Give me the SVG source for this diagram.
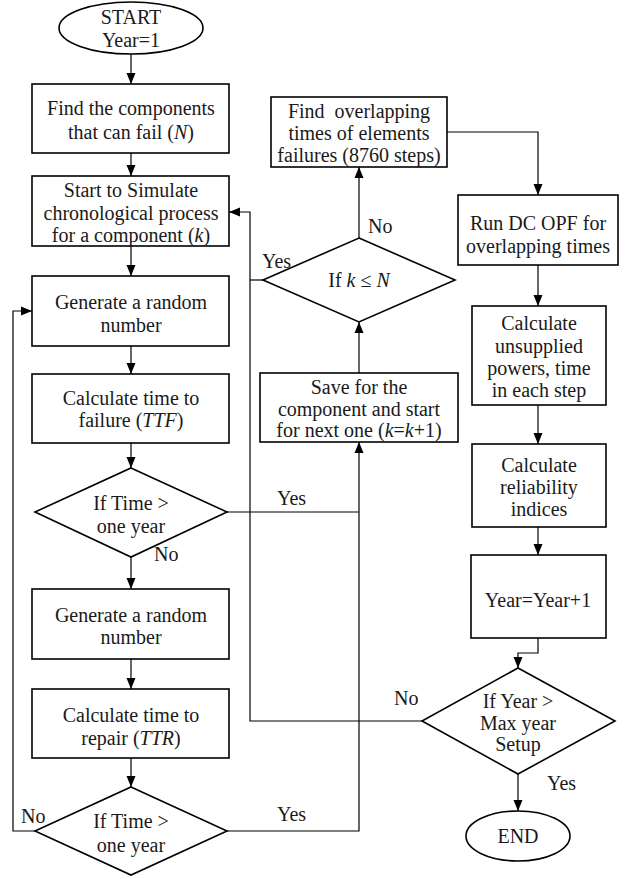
<svg xmlns="http://www.w3.org/2000/svg" width="632" height="879" viewBox="0 0 632 879" font-family="'Liberation Serif', 'Times New Roman', serif">
<defs>
<marker id="arr" markerUnits="userSpaceOnUse" markerWidth="11" markerHeight="10" refX="11" refY="5" orient="auto">
<path d="M0,0.5 L11,5 L0,9.5 z" fill="#000"/>
</marker>
<style>
.n{fill:#fff;stroke:#000;stroke-width:1.6}
.t{font-family:'Liberation Serif','Times New Roman',serif;font-size:20px;fill:#1a1a1a;text-anchor:middle}
.l{font-family:'Liberation Serif','Times New Roman',serif;font-size:20px;fill:#1a1a1a}
.c{fill:none;stroke:#000;stroke-width:1.2}
.a{marker-end:url(#arr)}
.i{font-style:italic}
</style>
</defs>
<rect width="632" height="879" fill="#fff"/>
<g id="connectors">
<path class="c a" d="M131,54 V84"/>
<path class="c a" d="M131,153 V176"/>
<path class="c a" d="M131,246 V276"/>
<path class="c a" d="M131,346 V374"/>
<path class="c a" d="M131,443 V468"/>
<path class="c a" d="M131,557 V589"/>
<path class="c a" d="M131,659 V689"/>
<path class="c a" d="M131,758 V787"/>
<path class="c a" d="M35,831 H13 V311 H32"/>
<path class="c a" d="M227,831 H359 V442"/>
<path class="c" d="M227,512 H359"/>
<path class="c a" d="M359,373 V322"/>
<path class="c a" d="M359,238 V167"/>
<path class="c" d="M263,280 H250"/>
<path class="c a" d="M422,721 H250 V212 H229"/>
<path class="c a" d="M447,132 H538 V195"/>
<path class="c a" d="M538,265 V306"/>
<path class="c a" d="M538,405 V444"/>
<path class="c a" d="M538,527 V555"/>
<path class="c a" d="M538,638 V653 H518 V668"/>
<path class="c a" d="M518,774 V811"/>
<text class="l" x="262" y="268">Yes</text>
<text class="l" x="368" y="233">No</text>
<text class="l" x="277" y="505">Yes</text>
<text class="l" x="154" y="561">No</text>
<text class="l" x="21" y="823">No</text>
<text class="l" x="277" y="821">Yes</text>
<text class="l" x="394" y="705">No</text>
<text class="l" x="547" y="790">Yes</text>
</g>
<g id="start">
<ellipse class="n" cx="131" cy="28" rx="72" ry="26"/>
<text class="t" x="131" y="24">START</text>
<text class="t" x="131" y="47">Year=1</text>
</g>
<g id="find-components">
<rect class="n" x="32" y="84" width="197" height="69"/>
<text class="t" x="131" y="115">Find the components</text>
<text class="t" x="131" y="139">that can fail (<tspan class="i">N</tspan>)</text>
</g>
<g id="start-simulate">
<rect class="n" x="32" y="176" width="197" height="70"/>
<text class="t" x="131" y="197">Start to Simulate</text>
<text class="t" x="131" y="220">chronological process</text>
<text class="t" x="131" y="242">for a component (<tspan class="i">k</tspan>)</text>
</g>
<g id="generate-1">
<rect class="n" x="32" y="276" width="197" height="70"/>
<text class="t" x="131" y="309">Generate a random</text>
<text class="t" x="131" y="332">number</text>
</g>
<g id="ttf">
<rect class="n" x="32" y="374" width="197" height="69"/>
<text class="t" x="131" y="405">Calculate time to</text>
<text class="t" x="131" y="427">failure (<tspan class="i">TTF</tspan>)</text>
</g>
<g id="decision-1">
<polygon class="n" points="131,468 227,512 131,557 35,512"/>
<text class="t" x="131" y="510">If Time &gt;</text>
<text class="t" x="131" y="533">one year</text>
</g>
<g id="generate-2">
<rect class="n" x="32" y="589" width="197" height="70"/>
<text class="t" x="131" y="622">Generate a random</text>
<text class="t" x="131" y="644">number</text>
</g>
<g id="ttr">
<rect class="n" x="32" y="689" width="197" height="69"/>
<text class="t" x="131" y="722">Calculate time to</text>
<text class="t" x="131" y="745">repair (<tspan class="i">TTR</tspan>)</text>
</g>
<g id="decision-2">
<polygon class="n" points="131,787 227,831 131,875 35,831"/>
<text class="t" x="131" y="828">If Time &gt;</text>
<text class="t" x="131" y="852">one year</text>
</g>
<g id="save">
<rect class="n" x="260" y="373" width="198" height="69"/>
<text class="t" x="359" y="394">Save for the</text>
<text class="t" x="359" y="416">component and start</text>
<text class="t" x="359" y="437">for next one (<tspan class="i">k</tspan>=<tspan class="i">k</tspan>+1)</text>
</g>
<g id="decision-k">
<polygon class="n" points="359,238 455,280 359,322 263,280"/>
<text class="t" x="359" y="287">If <tspan class="i">k</tspan> ≤ <tspan class="i">N</tspan></text>
</g>
<g id="find-overlapping">
<rect class="n" x="271" y="97" width="176" height="70"/>
<text class="t" x="359" y="118" xml:space="preserve">Find  overlapping</text>
<text class="t" x="359" y="140">times of elements</text>
<text class="t" x="359" y="162">failures (8760 steps)</text>
</g>
<g id="dc-opf">
<rect class="n" x="458" y="195" width="160" height="70"/>
<text class="t" x="538" y="230">Run DC OPF for</text>
<text class="t" x="538" y="253">overlapping times</text>
</g>
<g id="unsupplied">
<rect class="n" x="472" y="306" width="134" height="99"/>
<text class="t" x="539" y="330">Calculate</text>
<text class="t" x="539" y="353">unsupplied</text>
<text class="t" x="539" y="375">powers, time</text>
<text class="t" x="539" y="397">in each step</text>
</g>
<g id="reliability">
<rect class="n" x="472" y="444" width="134" height="83"/>
<text class="t" x="539" y="472">Calculate</text>
<text class="t" x="539" y="494">reliability</text>
<text class="t" x="539" y="516">indices</text>
</g>
<g id="year-inc">
<rect class="n" x="471" y="555" width="135" height="83"/>
<text class="t" x="538" y="607">Year=Year+1</text>
</g>
<g id="decision-year">
<polygon class="n" points="518,668 615,721 518,774 422,721"/>
<text class="t" x="518" y="708">If Year &gt;</text>
<text class="t" x="518" y="730">Max year</text>
<text class="t" x="518" y="751">Setup</text>
</g>
<g id="end">
<ellipse class="n" cx="518" cy="836" rx="52" ry="25"/>
<text class="t" x="518" y="843">END</text>
</g>
</svg>
